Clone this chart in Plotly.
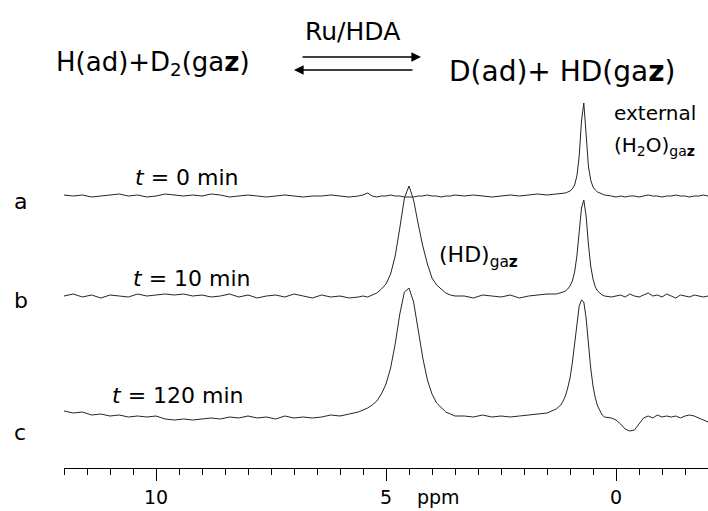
import plotly.graph_objects as go

# ---------------- data ----------------
ppm = [12.0, 11.8, 11.6, 11.4, 11.2, 11.0, 10.8, 10.6, 10.4, 10.2, 10.0, 9.8, 9.6, 9.4, 9.2, 9.0,
       8.8, 8.6, 8.4, 8.2, 8.0, 7.8, 7.6, 7.4, 7.2, 7.0, 6.8, 6.6, 6.4, 6.2, 6.0, 5.8, 5.6,
       5.5, 5.4, 5.3, 5.2, 5.1, 5.0, 4.9, 4.8, 4.7, 4.6, 4.5, 4.4, 4.3, 4.2, 4.1, 4.0, 3.9, 3.8,
       3.7, 3.6, 3.5,
       3.3, 3.1, 2.9, 2.7, 2.5, 2.3, 2.1, 1.9, 1.7, 1.5, 1.3,
       1.2, 1.15, 1.1, 1.05, 1.0, 0.95, 0.9, 0.85, 0.8, 0.75, 0.7, 0.65, 0.6, 0.55, 0.5, 0.45,
       0.4, 0.35, 0.3, 0.25,
       0.1, 0.0, -0.1, -0.2, -0.3, -0.4, -0.5, -0.6, -0.7, -0.8, -0.9, -1.0, -1.1, -1.2, -1.3,
       -1.4, -1.5, -1.6, -1.7, -1.8, -1.9, -2.0]

# intensities (arbitrary units, relative to each trace's own baseline)
spec_a = [1, 0, 1, -1, 0, 1, 2, 0, 1, -1, 0, 2, 1, 0, 1, 0, 2, 1, -1, 0, 1, 0, -1, 0, 1, 0, -1, 0, 0, 1, 0, -1, 0,
          1, 3, 0, -1, 0, 0, 1, 0, 0, -1, -1, -1, 0, 0, 1, 0, 0, -1, 0, 0, 1,
          0, 1, 0, -1, 0, 1, 0, 1, 2, 1, 2,
          2, 2, 3, 4, 5, 7, 11, 20, 40, 75, 93, 62, 30, 16, 9, 6, 4, 3, 2, 1,
          0, -1, 0, -1, 0, 0, -1, 0, 1, 0, 0, -1, 0, 0, 1, 0, 0, -1, 0, 0, 1, 0]

spec_b = [0, 2, -1, 1, -2, 1, 0, -1, 2, 0, 1, 2, 1, 2, 0, 1, -1, 0, 2, -1, 1, -2, 0, 1, -1, 2, 0, -2, 1, -1, 0, -2, -1,
          0, -1, 1, 3, 7, 12, 22, 40, 68, 98, 110, 96, 72, 50, 32, 18, 11, 7, 3, 1, 0,
          0, -2, 1, 0, -1, 1, -2, 0, 1, 2, 2,
          3, 4, 5, 7, 10, 15, 24, 40, 64, 88, 96, 80, 52, 30, 17, 9, 5, 3, 1, 0,
          -1, 0, 1, -1, 2, 0, -1, 1, 3, 0, 1, -1, 2, 0, -2, 1, 0, -1, 1, 0, -1, 0]

spec_c = [7, 5, 6, 3, 4, 2, 3, 1, 2, 1, 2, -1, -2, -1, -2, -1, 0, -1, 1, 0, 2, 0, 1, -1, 2, 0, 1, 0, 1, 3, 2, 4, 6,
          8, 10, 13, 17, 24, 34, 50, 74, 104, 126, 130, 116, 88, 60, 38, 24, 15, 10, 6, 4, 2,
          2, 1, 3, 1, 2, 1, 2, 3, 4, 5, 9,
          13, 17, 22, 30, 40, 55, 75, 95, 112, 118, 116, 100, 74, 50, 32, 20, 12, 7, 3, 1,
          0, -2, -6, -11, -13, -12, -6, 0, 2, 0, 3, 1, 2, 1, 2, 0, 2, 3, 2, 0, -2, -4]

time_labels = ["<i>t</i> = 0 min", "<i>t</i> = 10 min", "<i>t</i> = 120 min"]
trace_letters = ["a", "b", "c"]

# ---------------- layout helpers ----------------
W, H = 708, 511
ML, MR, MT, MB = 64, 0, 90, 43
PW, PH = W - ML - MR, H - MT - MB


def PX(x):
    return (x - ML) / PW


def PY(y):
    return (H - MB - y) / PH


FONT = "DejaVu Sans, Arial, sans-serif"
offsets = [272, 172, 50]  # vertical stacking of the three spectra

fig = go.Figure()
for spec, off in zip([spec_a, spec_b, spec_c], offsets):
    fig.add_trace(go.Scatter(
        x=ppm, y=[v + off for v in spec], mode="lines",
        line=dict(color="#262626", width=1), hoverinfo="skip", showlegend=False))

ann = []


def text(s, x, y, size, xanchor="left"):
    ann.append(dict(text=s, x=PX(x), y=PY(y), xref="paper", yref="paper",
                    xanchor=xanchor, yanchor="middle", showarrow=False,
                    font=dict(family=FONT, size=size, color="black")))


# header equation
text("Ru/HDA", 352, 31, 25, "center")
text("H(ad)+D<sub>2</sub>(ga<b>z</b>)", 54, 63, 26)
text("D(ad)+ HD(ga<b>z</b>)", 447, 71, 28)

# equilibrium arrows
ann.append(dict(text="", x=PX(421), y=PY(57), xref="paper", yref="paper",
                ax=-120, ay=0, showarrow=True, arrowhead=2, arrowsize=1.2,
                arrowwidth=1.6, arrowcolor="black"))
ann.append(dict(text="", x=PX(294), y=PY(70), xref="paper", yref="paper",
                ax=120, ay=0, showarrow=True, arrowhead=2, arrowsize=1.2,
                arrowwidth=1.6, arrowcolor="black"))

# peak labels
text("external", 612, 113, 20)
text("(H<sub>2</sub>O)<sub>ga<b>z</b></sub>", 612, 146, 20)
text("(HD)<sub>ga<b>z</b></sub>", 437, 256, 22)

# time labels and trace letters
for lbl, x, y in zip(time_labels, [133, 131, 110], [177, 278, 395]):
    text(lbl, x, y, 22)
for lbl, y in zip(trace_letters, [201, 300, 432]):
    text(lbl, 12, y, 22)

# axis unit
text("ppm", 415, 497, 19)

fig.update_layout(
    width=W, height=H,
    margin=dict(l=ML, r=MR, t=MT, b=MB, pad=0, autoexpand=False),
    paper_bgcolor="white", plot_bgcolor="white",
    annotations=ann,
    xaxis=dict(range=[12, -2], showgrid=False, zeroline=False, automargin=False,
               showline=True, linecolor="black", linewidth=1,
               ticks="outside", ticklen=12, tickwidth=1, tickcolor="black",
               tick0=0, dtick=5,
               tickfont=dict(family=FONT, size=19, color="black"),
               minor=dict(ticks="outside", ticklen=6, tickwidth=1, tickcolor="black",
                          tick0=0, dtick=0.5, showgrid=False)),
    yaxis=dict(range=[0, PH], visible=False, showgrid=False, zeroline=False,
               automargin=False),
    hovermode=False,
)

fig.write_html("out.html",
               config={"displayModeBar": False, "staticPlot": True},
               post_script="document.body.style.margin='0';document.body.style.padding='0';")
